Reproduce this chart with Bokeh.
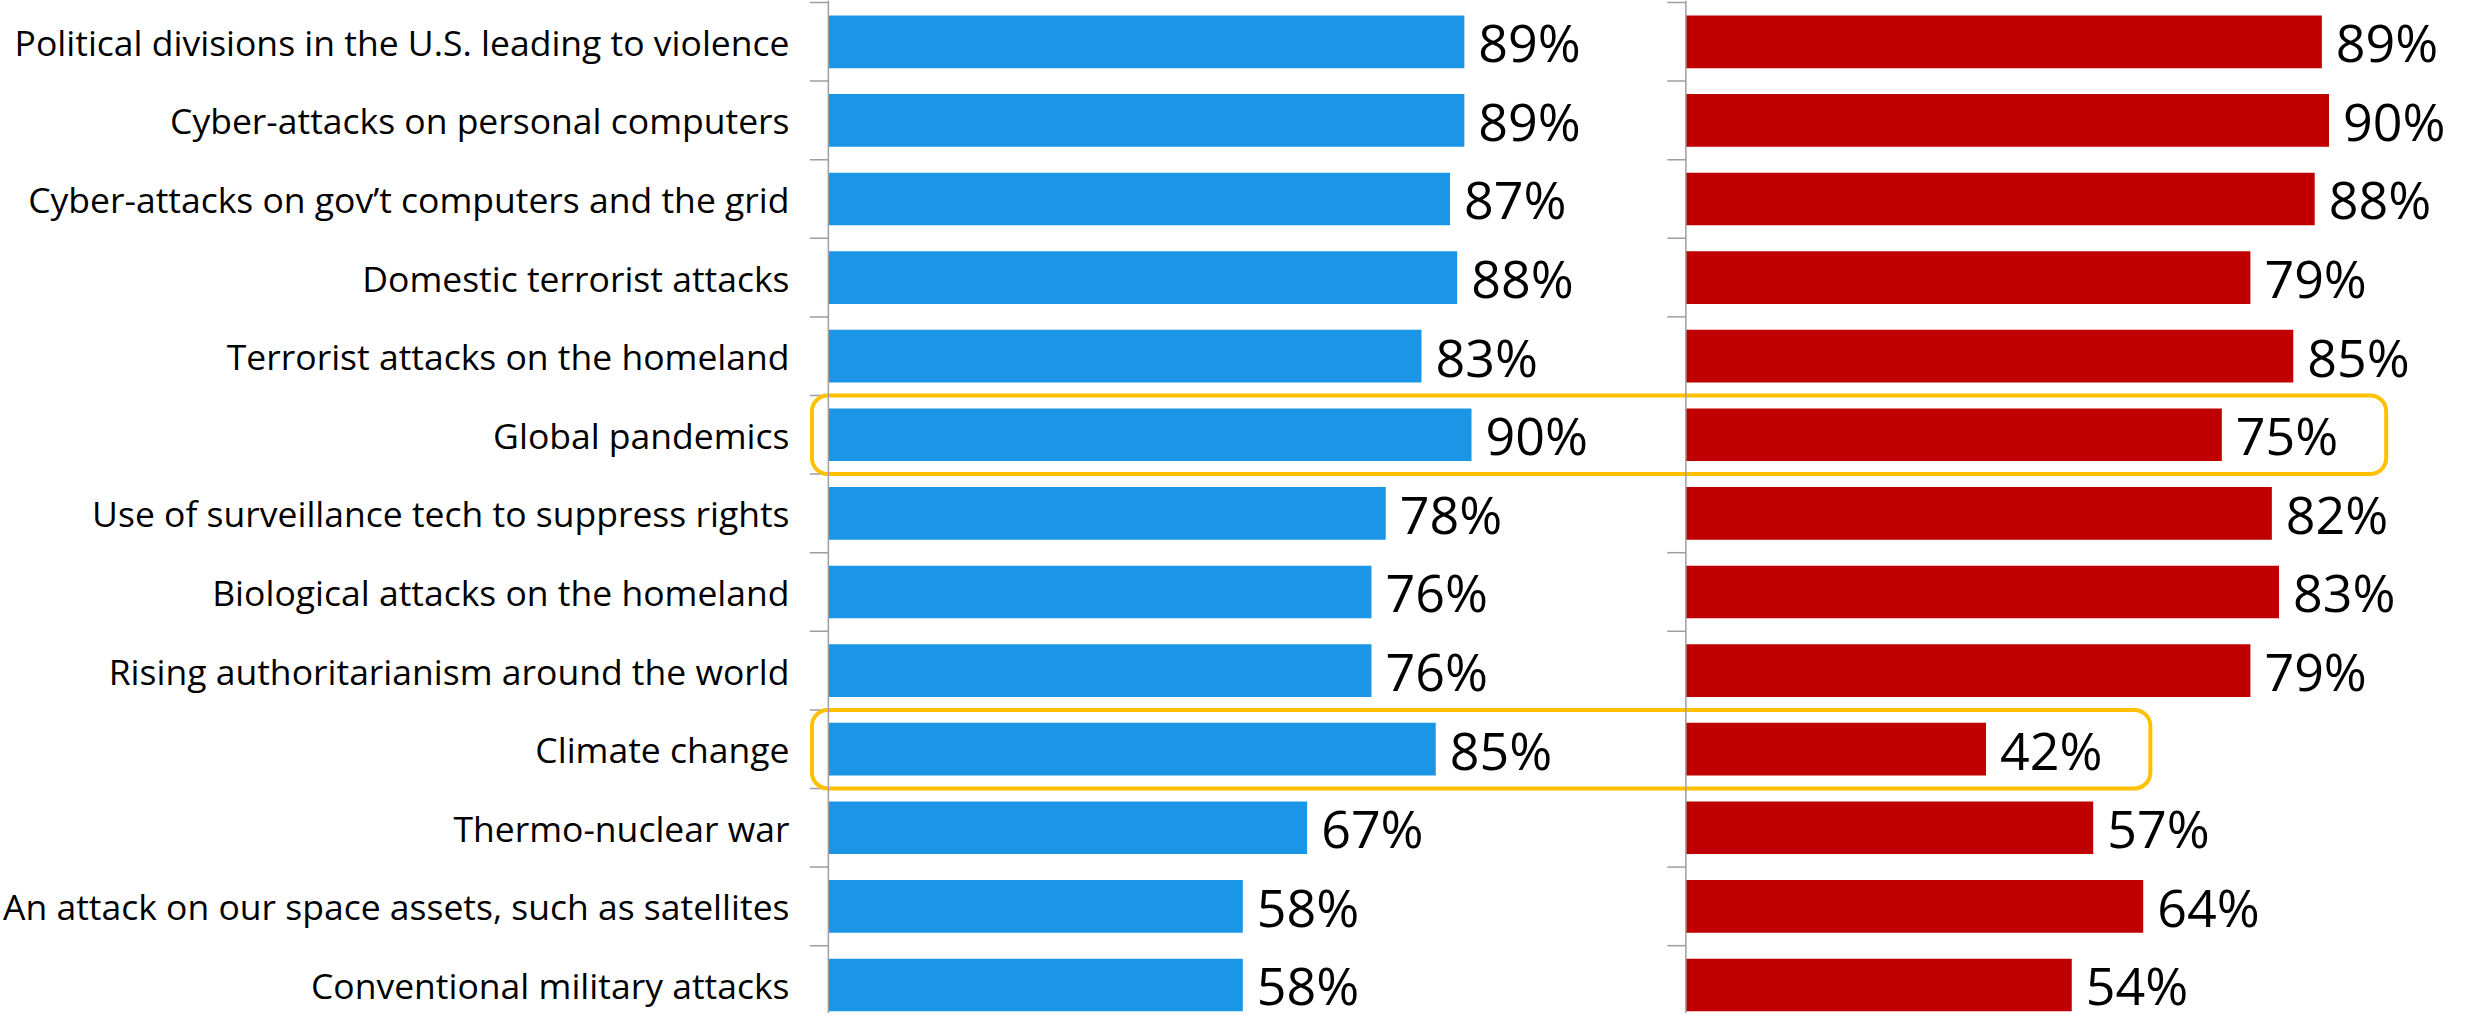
from bokeh.plotting import figure
from bokeh.models import Range1d, FixedTicker, Span
from bokeh.core.properties import value
from bokeh.embed import file_html
from bokeh.resources import INLINE

categories = [
    "Political divisions in the U.S. leading to violence",
    "Cyber-attacks on personal computers",
    "Cyber-attacks on gov\u2019t computers and the grid",
    "Domestic terrorist attacks",
    "Terrorist attacks on the homeland",
    "Global pandemics",
    "Use of surveillance tech to suppress rights",
    "Biological attacks on the homeland",
    "Rising authoritarianism around the world",
    "Climate change",
    "Thermo-nuclear war",
    "An attack on our space assets, such as satellites",
    "Conventional military attacks",
]
blue_values = [89, 89, 87, 88, 83, 90, 78, 76, 76, 85, 67, 58, 58]
red_values = [89, 90, 88, 79, 85, 75, 82, 83, 79, 42, 57, 64, 54]
highlighted = ["Global pandemics", "Climate change"]

BLUE = "#1B96E7"
RED = "#C00000"
GOLD = "#FFC000"
GRAY = "#9E9E9E"
FONT = "Open Sans"
OFFSET = 120  # x position where the second panel starts

n = len(categories)
ys = list(range(n))

p = figure(width=2460, height=1013, output_backend="svg", toolbar_location=None,
           x_range=Range1d(-3.2, 228.4), y_range=Range1d(12.363, -0.5254))
p.min_border_left = 790
p.min_border_right = 0
p.min_border_top = 0
p.min_border_bottom = 0
p.outline_line_color = None
p.xgrid.visible = False
p.ygrid.visible = False
p.xaxis.visible = False

yax = p.yaxis[0]
yax.ticker = FixedTicker(ticks=ys)
yax.major_label_overrides = {i: c for i, c in zip(ys, categories)}
yax.major_tick_line_color = None
yax.minor_tick_line_color = None
yax.axis_line_color = None
yax.major_label_standoff = 10
yax.major_label_text_font = FONT
yax.major_label_text_font_size = "35.5px"
yax.major_label_text_color = "#000000"

# bars
p.hbar(y=ys, left=0, right=blue_values, height=0.67, fill_color=BLUE, line_color=None)
p.hbar(y=ys, left=OFFSET, right=[OFFSET + v for v in red_values], height=0.67,
       fill_color=RED, line_color=None)

# value labels
p.text(x=blue_values, y=ys, text=[f"{v}%" for v in blue_values], x_offset=14,
       text_baseline="middle", text_align="left", text_font=value(FONT),
       text_font_size="52px", text_color="#000000")
p.text(x=[OFFSET + v for v in red_values], y=ys, text=[f"{v}%" for v in red_values],
       x_offset=14, text_baseline="middle", text_align="left", text_font=value(FONT),
       text_font_size="52px", text_color="#000000")

# axis lines and category boundary ticks for both panels
bounds = [i - 0.5 for i in range(n + 1)]
for base in (0, OFFSET):
    p.add_layout(Span(location=base, dimension="height", line_color=GRAY, line_width=1.5))
    p.segment(x0=[base - 2.6] * len(bounds), x1=[base] * len(bounds), y0=bounds, y1=bounds,
              line_color=GRAY, line_width=1.5)

# highlight boxes
hi_idx = [categories.index(h) for h in highlighted]
p.quad(left=[-2.3] * len(hi_idx),
       right=[OFFSET + red_values[i] + 23 for i in hi_idx],
       top=[i - 0.5 for i in hi_idx], bottom=[i + 0.5 for i in hi_idx],
       fill_color=None, line_color=GOLD, line_width=4, border_radius=16)

open("out.html", "w").write(file_html(p, INLINE))
